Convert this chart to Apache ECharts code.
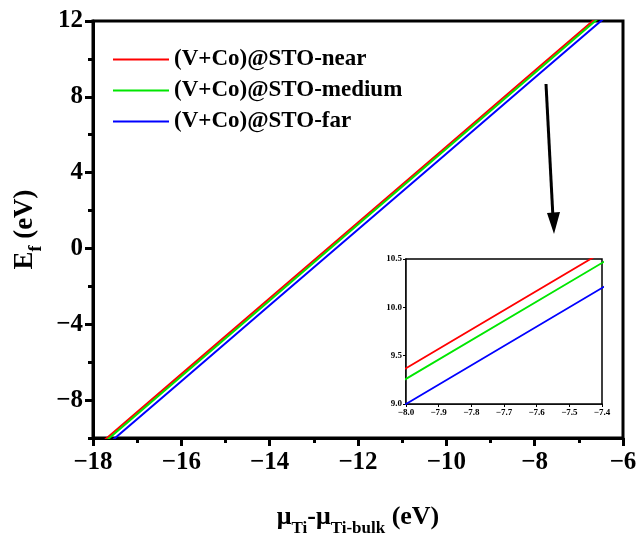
<!DOCTYPE html>
<html><head><meta charset="utf-8">
<script src="https://cdn.jsdelivr.net/npm/echarts@6/dist/echarts.min.js"></script>
<style>html,body{margin:0;padding:0;background:#fff}#c{width:641px;height:542px}</style>
</head><body><div id="c"></div>
<script>
const muValues = [-18, -16, -14, -12, -10, -8, -6];
const nearValues = [-10.63, -6.63, -2.63, 1.37, 5.37, 9.37, 13.37];
const mediumValues = [-10.74, -6.74, -2.74, 1.26, 5.26, 9.26, 13.26];
const farValues = [-11.0, -7.0, -3.0, 1.0, 5.0, 9.0, 13.0];
const seriesNames = ['(V+Co)@STO-near', '(V+Co)@STO-medium', '(V+Co)@STO-far'];
const yMajorTicks = [-8, -4, 0, 4, 8, 12];
const yMinorTicks = [-10, -6, -2, 2, 6, 10];
const colors = ['#ff0000', '#00e600', '#0000ff'];

const font = 'Liberation Serif, Times New Roman, serif';
const chart = echarts.init(document.getElementById('c'));
const pairs = v => muValues.map((x, i) => [x, v[i]]);
const all = [nearValues, mediumValues, farValues];
const minus = v => String(v).replace('-', '−');

const series = [];
all.forEach((v, i) => {
  series.push({name: seriesNames[i], type: 'line', data: pairs(v), xAxisIndex: 0, yAxisIndex: 0,
    showSymbol: false, clip: true, lineStyle: {color: colors[i], width: 2}, itemStyle: {color: colors[i]}, z: 3});
});
all.forEach((v, i) => {
  series.push({name: seriesNames[i] + ' inset', type: 'line', data: pairs(v), xAxisIndex: 1, yAxisIndex: 2,
    showSymbol: false, clip: true, lineStyle: {color: colors[i], width: 1.8}, z: 12, zlevel: 1});
});

const rich = (b, s, drop) => ({
  b: {fontFamily: font, fontWeight: 'bold', fontSize: b, color: '#000', verticalAlign: 'bottom', lineHeight: b + 6},
  s: {fontFamily: font, fontWeight: 'bold', fontSize: s, color: '#000', verticalAlign: 'bottom', lineHeight: b + 6, padding: [0, 0, -drop, 0]}
});

chart.setOption({
  animation: false,
  backgroundColor: '#fff',
  legend: {
    data: seriesNames, left: 108, top: 43, orient: 'vertical', itemGap: 8, itemWidth: 56, itemHeight: 22,
    icon: 'path://M0,10L56,10L56,12L0,12Z',
    textStyle: {fontFamily: font, fontWeight: 'bold', fontSize: 23, color: '#000'}
  },
  grid: [
    {left: 93, right: 18, top: 21, bottom: 91, show: true, borderColor: '#000', borderWidth: 3, containLabel: false},
    {left: 406, top: 259, width: 196, height: 145, show: true, borderColor: '#000', borderWidth: 1.5, backgroundColor: '#fff', z: 10, zlevel: 1}
  ],
  xAxis: [
    {type: 'value', gridIndex: 0, min: -18, max: -6, interval: 2,
     name: '{b|μ}{s|Ti}{b|-μ}{s|Ti-bulk}{b| (eV)}', nameLocation: 'middle', nameGap: 60,
     nameTextStyle: {rich: rich(26, 17, 7)},
     axisLine: {onZero: false, lineStyle: {color: '#000', width: 3}},
     axisTick: {inside: false, length: 8, lineStyle: {width: 3, color: '#000'}},
     minorTick: {show: true, splitNumber: 2, length: 5, lineStyle: {width: 3, color: '#000'}},
     splitLine: {show: false},
     axisLabel: {fontFamily: font, fontWeight: 'bold', fontSize: 25, color: '#000', margin: 12, formatter: minus}},
    {type: 'value', gridIndex: 1, min: -8, max: -7.4, interval: 0.1,
     axisLine: {onZero: false, lineStyle: {color: '#000', width: 1.5}},
     axisTick: {length: 3, lineStyle: {color: '#000'}},
     splitLine: {show: false},
     axisLabel: {fontFamily: font, fontWeight: 'bold', fontSize: 9, color: '#000', margin: 4,
       formatter: v => v.toFixed(1).replace('-', '−')}}
  ],
  yAxis: [
    {type: 'value', gridIndex: 0, min: -10, max: 12, interval: 2,
     name: '{b|E}{s|f}{b| (eV)}', nameLocation: 'middle', nameGap: 44, nameRotate: 90,
     nameTextStyle: {rich: rich(27, 18, 7)},
     axisLine: {onZero: false, lineStyle: {color: '#000', width: 3}},
     axisTick: {inside: false, length: 8, customValues: yMajorTicks, lineStyle: {width: 3, color: '#000'}},
     splitLine: {show: false},
     axisLabel: {fontFamily: font, fontWeight: 'bold', fontSize: 25, color: '#000', margin: 10,
       customValues: yMajorTicks, formatter: minus}},
    {type: 'value', gridIndex: 0, min: -10, max: 12, interval: 2, position: 'left', offset: 0,
     axisLine: {show: false},
     axisTick: {inside: false, length: 5, customValues: yMinorTicks, lineStyle: {width: 3, color: '#000'}},
     axisLabel: {show: false}, splitLine: {show: false}},
    {type: 'value', gridIndex: 1, min: 9.0, max: 10.5, interval: 0.5,
     axisLine: {onZero: false, lineStyle: {color: '#000', width: 1.5}},
     axisTick: {length: 3, lineStyle: {color: '#000'}},
     splitLine: {show: false},
     axisLabel: {fontFamily: font, fontWeight: 'bold', fontSize: 9, color: '#000', margin: 4,
       formatter: v => v.toFixed(1)}}
  ],
  series: series,
  graphic: [
    {type: 'line', shape: {x1: 546, y1: 84, x2: 553, y2: 218}, style: {stroke: '#000', lineWidth: 3}, z: 20},
    {type: 'polygon', shape: {points: [[547, 213], [560, 212], [554, 234]]}, style: {fill: '#000'}, z: 20}
  ]
});
</script>
</body></html>
